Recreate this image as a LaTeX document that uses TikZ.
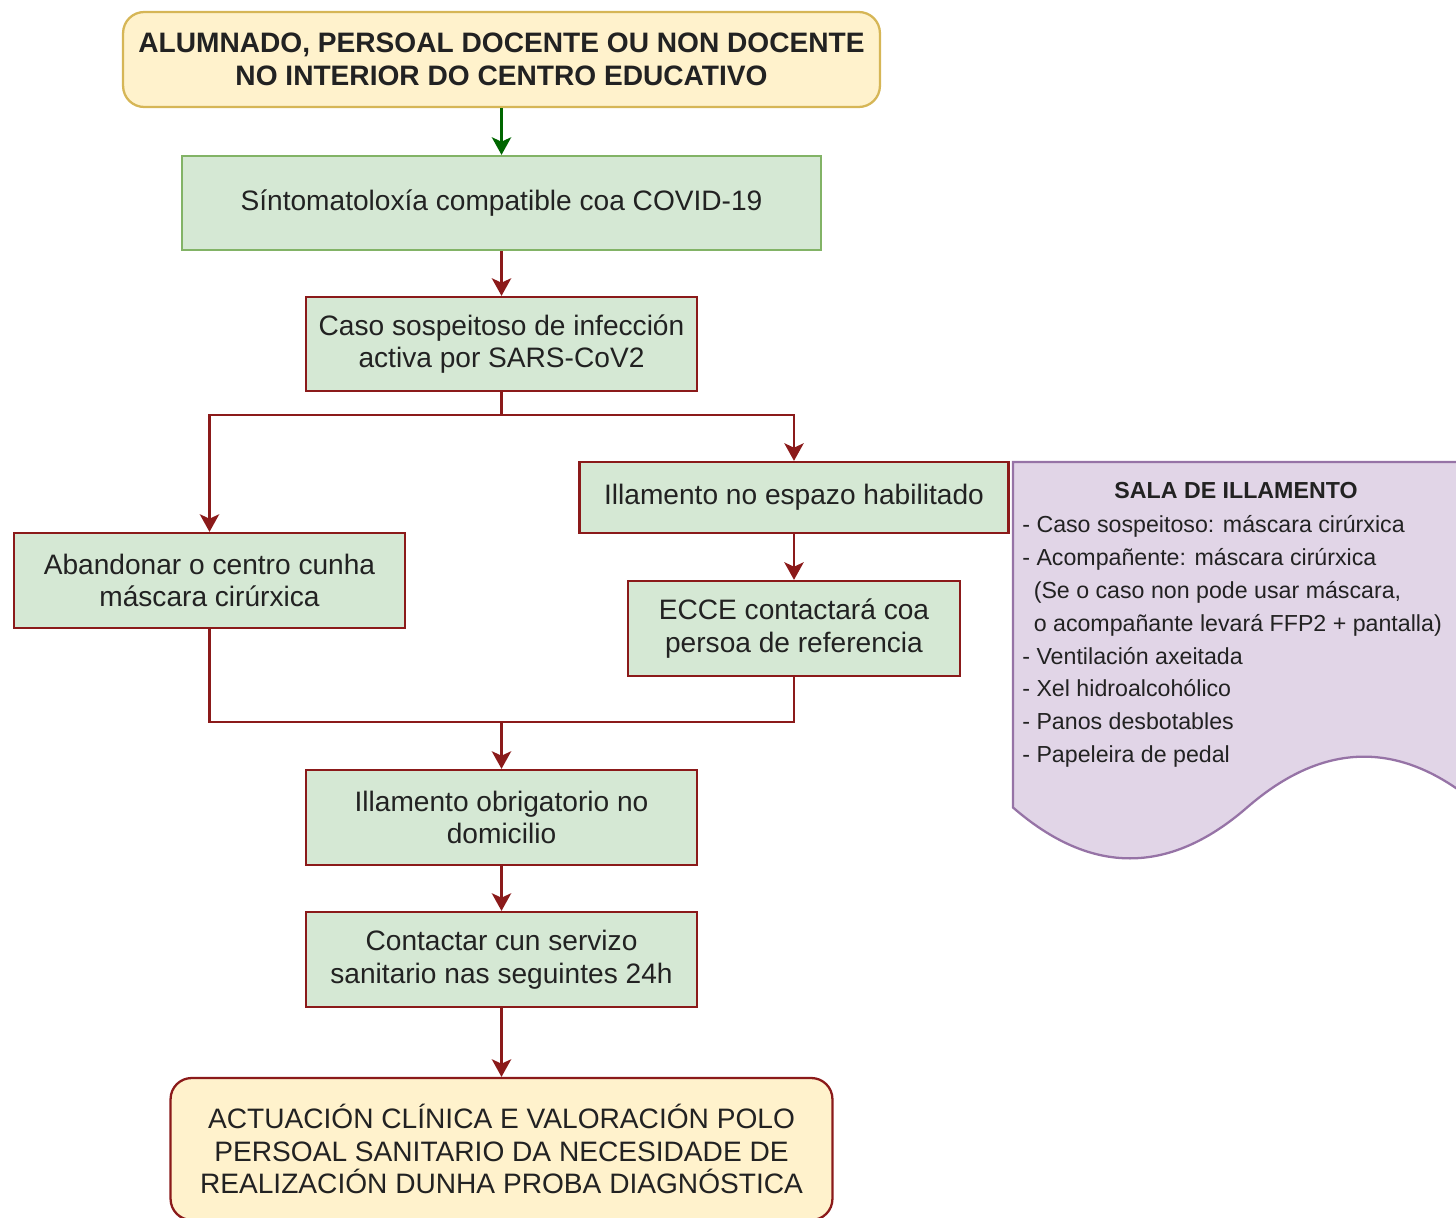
\documentclass[tikz,border=0pt]{standalone}
\usepackage{fontspec}
\setmainfont{Liberation Sans}
\usetikzlibrary{arrows.meta}
\definecolor{gfill}{HTML}{D5E8D4}
\definecolor{gline}{HTML}{82B366}
\definecolor{yfill}{HTML}{FFF2CC}
\definecolor{yline}{HTML}{D6B656}
\definecolor{pfill}{HTML}{E1D5E7}
\definecolor{pline}{HTML}{9673A6}
\definecolor{dred}{HTML}{8B1A1A}
\definecolor{dgreen}{HTML}{006600}
\definecolor{txt}{HTML}{222222}
\tikzset{
  mainfont/.style={font=\fontsize{16pt}{18.7pt}\selectfont, text=txt, align=center},
  gbox/.style={mainfont, draw=dred, fill=gfill, line width=1.3pt, inner sep=0pt},
  ybox/.style={mainfont, fill=yfill, line width=1.3pt, rounded corners=12pt, inner sep=0pt},
  arr/.style={draw=dred, line width=1.5pt, -{Stealth[length=10pt,width=11pt,inset=2.5pt]}},
  garr/.style={draw=dgreen, line width=1.5pt, -{Stealth[length=10pt,width=11pt,inset=2.5pt]}},
  lin/.style={draw=dred, line width=1.5pt},
}
\begin{document}
\begin{tikzpicture}[x=0.02cm,y=-0.02cm]
\useasboundingbox (0,0) rectangle (1456,1217);
\clip (0,0) rectangle (1456,1217);

% side panel (document shape)
\draw[fill=pfill, draw=pline, line width=1.3pt]
  (1013,462) -- (1481,462) -- (1481,807.5)
  .. controls (1403,739.7) and (1325,739.7) .. (1247,807.5)
  .. controls (1169,875.3) and (1091,875.3) .. (1013,807.5) -- cycle;
\node[font=\bfseries\fontsize{13.2pt}{18.7pt}\selectfont, text=txt] (saltitle) at (1236,491) {SALA DE ILLAMENTO};
\node[font=\fontsize{13.2pt}{18.7pt}\selectfont, text=txt, align=left, anchor=west, inner sep=0pt] (sallist) at (1022,641.5) {%
- Caso sospeitoso: máscara cirúrxica\\
- Acompañente: máscara cirúrxica\\
\hspace*{6.5pt}(Se o caso non pode usar máscara,\\
\hspace*{6.5pt}o acompañante levará FFP2 + pantalla)\\
- Ventilación axeitada\\
- Xel hidroalcohólico\\
- Panos desbotables\\
- Papeleira de pedal};

% nodes
\node[ybox, draw=yline, font=\bfseries\fontsize{16pt}{18.7pt}\selectfont, minimum width=15.14cm, minimum height=1.9cm] (top) at (501.5,59.5)
  {ALUMNADO, PERSOAL DOCENTE OU NON DOCENTE\\NO INTERIOR DO CENTRO EDUCATIVO};
\node[gbox, draw=gline, minimum width=12.78cm, minimum height=1.88cm] (sint) at (501.5,203)
  {Síntomatoloxía compatible coa COVID-19};
\node[gbox, minimum width=7.82cm, minimum height=1.88cm] (caso) at (501.5,344)
  {Caso sospeitoso de infección\\activa por SARS-CoV2};
\node[gbox, minimum width=8.58cm, minimum height=1.42cm] (illesp) at (794,497.5)
  {Illamento no espazo habilitado};
\node[gbox, minimum width=7.82cm, minimum height=1.9cm] (aband) at (209.5,580.5)
  {Abandonar o centro cunha\\máscara cirúrxica};
\node[gbox, minimum width=6.64cm, minimum height=1.9cm] (ecce) at (794,628.5)
  {ECCE contactará coa\\persoa de referencia};
\node[gbox, minimum width=7.82cm, minimum height=1.9cm] (dom) at (501.5,817.5)
  {Illamento obrigatorio no\\domicilio};
\node[gbox, minimum width=7.82cm, minimum height=1.9cm] (cont) at (501.5,959.5)
  {Contactar cun servizo\\sanitario nas seguintes 24h};
\node[ybox, draw=dred, minimum width=13.24cm, minimum height=2.84cm] (final) at (501.5,1149)
  {ACTUACIÓN CLÍNICA E VALORACIÓN POLO\\PERSOAL SANITARIO DA NECESIDADE DE\\REALIZACIÓN DUNHA PROBA DIAGNÓSTICA};

% connectors
\coordinate (split) at (501.5,415);
\coordinate (join) at (501.5,722);
\draw[garr] (top) -- (sint);
\draw[arr] (sint) -- (caso);
\draw[lin] (caso.south) -- (split);
\draw[arr] (split) -| (aband.north);
\draw[arr] (split) -| (illesp.north);
\draw[arr] (illesp) -- (ecce);
\draw[lin] (aband.south) |- (join);
\draw[lin] (ecce.south) |- (join);
\draw[arr] (join) -- (dom.north);
\draw[arr] (dom) -- (cont);
\draw[arr] (cont) -- (final);
\end{tikzpicture}
\end{document}
